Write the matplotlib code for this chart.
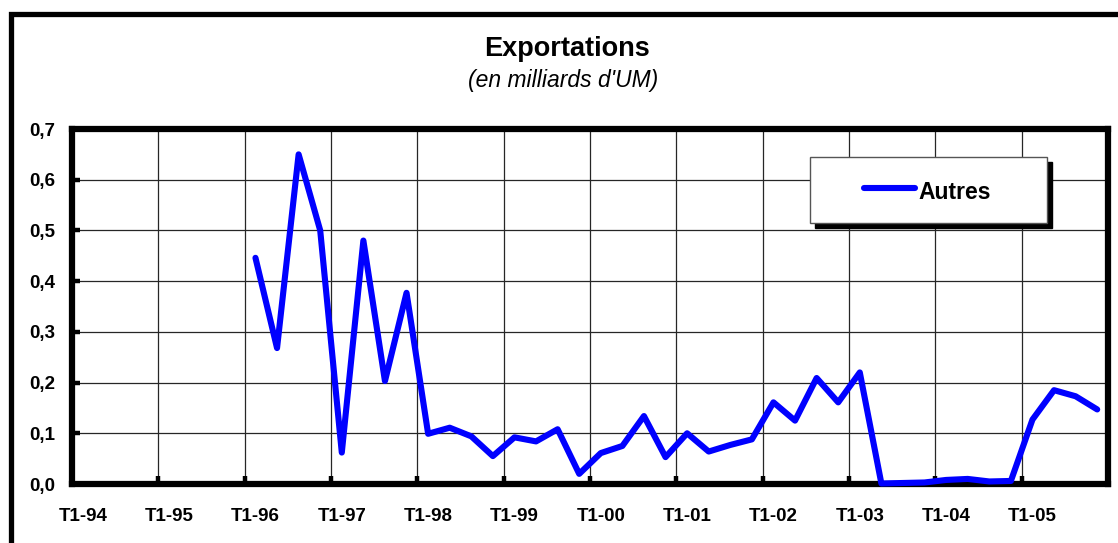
import matplotlib
matplotlib.use('Agg')
import matplotlib.pyplot as plt
from matplotlib.patches import Rectangle
from matplotlib.lines import Line2D
import numpy as np

plt.rcParams['font.family'] = ['Liberation Sans', 'DejaVu Sans']

# 📌 données : exportations trimestrielles "Autres" (milliards d'UM), T1-94 à T4-05
annees = ['T1-94', 'T1-95', 'T1-96', 'T1-97', 'T1-98', 'T1-99',
          'T1-00', 'T1-01', 'T1-02', 'T1-03', 'T1-04', 'T1-05']
autres_94_95 = [None] * 8
autres_96 = [0.446, 0.268, 0.650, 0.500]
autres_97 = [0.062, 0.480, 0.203, 0.377]
autres_98 = [0.099, 0.111, 0.094, 0.055]
autres_99 = [0.092, 0.084, 0.108, 0.020]
autres_00 = [0.061, 0.075, 0.134, 0.053]
autres_01 = [0.100, 0.064, 0.077, 0.088]
autres_02 = [0.161, 0.125, 0.209, 0.161]
autres_03 = [0.220, 0.001, 0.002, 0.003]
autres_04 = [0.008, 0.010, 0.005, 0.006]
autres_05 = [0.127, 0.185, 0.173, 0.147]

autres = (autres_94_95 + autres_96 + autres_97 + autres_98 + autres_99 +
          autres_00 + autres_01 + autres_02 + autres_03 + autres_04 + autres_05)
valeurs = np.array([np.nan if v is None else v for v in autres], dtype=float)
n = len(valeurs)
x = np.arange(n)

# 📌 figure
fig = plt.figure(figsize=(11.18, 5.43), dpi=100)
ax = fig.add_axes([72 / 1118, 1 - 484 / 543, 1036 / 1118, 355 / 543])

# cadre extérieur (déborde à droite et en bas)
fig.patches.append(Rectangle((10.5 / 1118, -0.05), 1.05, 1.05 - 13.5 / 543,
                             transform=fig.transFigure, fill=False,
                             edgecolor='black', linewidth=3.8, zorder=0))

ax.plot(x, valeurs, color='#0000FF', linewidth=4.4, solid_joinstyle='round',
        solid_capstyle='round', zorder=4, clip_on=False)

ax.set_xlim(-0.5, n - 0.5)
ax.set_ylim(0, 0.7)

# axe des catégories : graduations entre les trimestres, étiquettes au centre
ax.set_xticks(np.arange(-0.5, n + 0.1, 4))
ax.set_xticks(np.arange(0, n, 4), minor=True)
ax.set_xticklabels([])
ax.set_xticklabels(annees, minor=True, fontsize=13.5, fontweight='bold')
ax.tick_params(axis='x', which='minor', length=0, pad=17)
ax.tick_params(axis='x', which='major', direction='in', length=5.5, width=3.2)

yt = np.arange(0, 0.71, 0.1)
ax.set_yticks(yt)
ax.set_yticklabels([f'{v:.1f}'.replace('.', ',') for v in yt],
                   fontsize=13.5, fontweight='bold')
ax.tick_params(axis='y', direction='in', length=5.5, width=3.2, pad=12)

ax.grid(True, which='major', color='#262626', linewidth=0.9)
ax.set_axisbelow(True)
for s in ax.spines.values():
    s.set_linewidth(4.5)
    s.set_color('black')

# 📌 titres
fig.text(567 / 1118, 1 - 56.5 / 543, 'Exportations', ha='center', va='baseline',
         fontsize=19.5, fontweight='bold')
fig.text(563 / 1118, 1 - 87 / 543, "(en milliards d'UM)", ha='center', va='baseline',
         fontsize=16.5, fontstyle='italic')

# 📌 légende avec ombre
ax.add_patch(Rectangle((0.7172, 0.7211), 0.2288, 0.1859, transform=ax.transAxes,
                       facecolor='black', edgecolor='black', zorder=5))
ax.add_patch(Rectangle((0.7124, 0.7352), 0.2288, 0.1859, transform=ax.transAxes,
                       facecolor='white', edgecolor='#555555', linewidth=1.0, zorder=6))
ax.add_line(Line2D([0.7645, 0.8137], [0.8324, 0.8324], transform=ax.transAxes,
                   color='#0000FF', linewidth=4.4, solid_capstyle='round', zorder=7))
ax.text(0.8166, 0.8034, 'Autres', transform=ax.transAxes, ha='left', va='baseline',
        fontsize=16.5, fontweight='bold', zorder=7)

fig.savefig('out.png', dpi=100)
